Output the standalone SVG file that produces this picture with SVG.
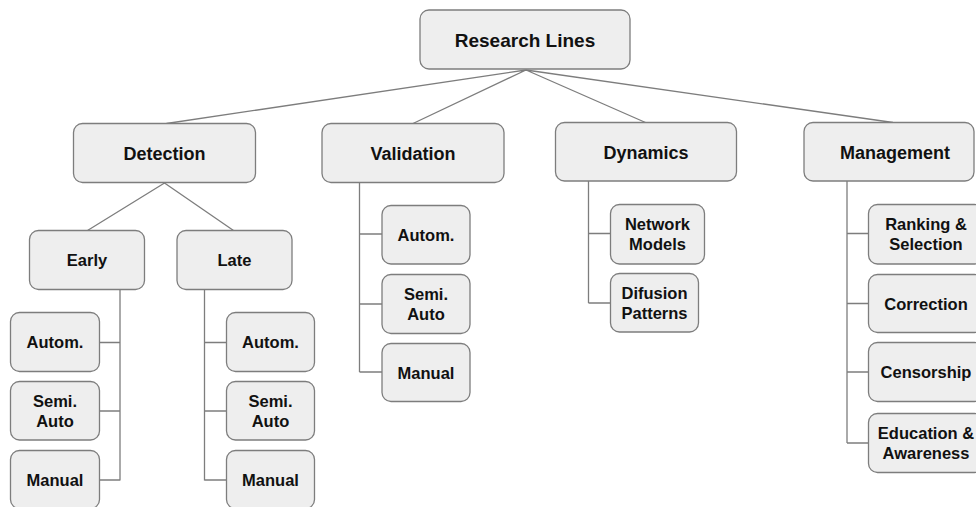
<svg xmlns="http://www.w3.org/2000/svg" width="976" height="507" viewBox="0 0 976 507">
<style>
.box{fill:#eeeeee;stroke:#7d7d7d;stroke-width:1.3}
.ln{fill:none;stroke:#7d7d7d;stroke-width:1.3}
text{font-family:"Liberation Sans",Arial,sans-serif;font-weight:bold;fill:#111;text-anchor:middle}
.t0{font-size:19px}
.t1{font-size:18px}
.t2{font-size:16.5px}
</style>
<rect width="976" height="507" fill="#ffffff"/>
<g id="connectors" class="ln">
<path d="M526 70 L166.5 123.5 M526 70 L413 123.5 M526 70 L645.5 122.5 M526 70 L893 122.5"/>
<path d="M164.5 183 L87.5 230.5 M164.5 183 L233.5 230.5"/>
<path d="M120 289.5 V480.5 M99.5 342.5 H120 M99.5 411 H120 M99.5 480 H120"/>
<path d="M204.5 289.5 V480.5 M204.5 342.5 H226.5 M204.5 411 H226.5 M204.5 480 H226.5"/>
<path d="M359.5 183 V372 M359.5 234 H382 M359.5 304 H382 M359.5 372 H382"/>
<path d="M588.5 181 V303 M588.5 233.5 H610.5 M588.5 303 H610.5"/>
<path d="M847 181 V443 M847 233.5 H868.5 M847 303.5 H868.5 M847 372 H868.5 M847 443 H868.5"/>
</g>
<g id="root"><rect class="box" x="420" y="10" width="210" height="59" rx="9"/><text class="t0" x="525" y="46.5">Research Lines</text></g>
<g id="detection"><rect class="box" x="73.5" y="123.5" width="182" height="59" rx="9"/><text class="t1" x="164.5" y="160">Detection</text></g>
<g id="validation"><rect class="box" x="322" y="123.5" width="182" height="59" rx="9"/><text class="t1" x="413" y="160">Validation</text></g>
<g id="dynamics"><rect class="box" x="555.5" y="122.5" width="181" height="58.5" rx="9"/><text class="t1" x="646" y="159">Dynamics</text></g>
<g id="management"><rect class="box" x="804" y="122.5" width="170" height="58.5" rx="9"/><text class="t1" x="895" y="159">Management</text></g>
<g id="early"><rect class="box" x="29.5" y="230.5" width="115" height="59" rx="9"/><text class="t2" x="87" y="266">Early</text></g>
<g id="late"><rect class="box" x="177" y="230.5" width="115" height="59" rx="9"/><text class="t2" x="234.5" y="266">Late</text></g>
<g id="early-autom"><rect class="box" x="10.5" y="312.5" width="89" height="59" rx="9"/><text class="t2" x="55" y="348">Autom.</text></g>
<g id="early-semi"><rect class="box" x="10.5" y="381.5" width="89" height="58.5" rx="9"/><text class="t2" x="55" y="407">Semi.</text><text class="t2" x="55" y="427">Auto</text></g>
<g id="early-manual"><rect class="box" x="10.5" y="450.5" width="89" height="58" rx="9"/><text class="t2" x="55" y="486">Manual</text></g>
<g id="late-autom"><rect class="box" x="226.5" y="312.5" width="88" height="59" rx="9"/><text class="t2" x="270.5" y="348">Autom.</text></g>
<g id="late-semi"><rect class="box" x="226.5" y="381.5" width="88" height="58.5" rx="9"/><text class="t2" x="270.5" y="407">Semi.</text><text class="t2" x="270.5" y="427">Auto</text></g>
<g id="late-manual"><rect class="box" x="226.5" y="450.5" width="88" height="58" rx="9"/><text class="t2" x="270.5" y="486">Manual</text></g>
<g id="val-autom"><rect class="box" x="382" y="205.5" width="88" height="58.5" rx="9"/><text class="t2" x="426" y="240.5">Autom.</text></g>
<g id="val-semi"><rect class="box" x="382" y="274.5" width="88" height="59" rx="9"/><text class="t2" x="426" y="300">Semi.</text><text class="t2" x="426" y="320">Auto</text></g>
<g id="val-manual"><rect class="box" x="382" y="343.5" width="88" height="58" rx="9"/><text class="t2" x="426" y="378.5">Manual</text></g>
<g id="network-models"><rect class="box" x="610.5" y="204.5" width="94" height="59.5" rx="9"/><text class="t2" x="657.5" y="230">Network</text><text class="t2" x="657.5" y="250">Models</text></g>
<g id="difusion-patterns"><rect class="box" x="610.5" y="273.5" width="88" height="58.5" rx="9"/><text class="t2" x="654.5" y="299">Difusion</text><text class="t2" x="654.5" y="319">Patterns</text></g>
<g id="ranking"><rect class="box" x="868.5" y="204.5" width="115" height="59.5" rx="9"/><text class="t2" x="926" y="230">Ranking &amp;</text><text class="t2" x="926" y="250">Selection</text></g>
<g id="correction"><rect class="box" x="868.5" y="274.5" width="115" height="58" rx="9"/><text class="t2" x="926" y="309.5">Correction</text></g>
<g id="censorship"><rect class="box" x="868.5" y="342.5" width="115" height="59" rx="9"/><text class="t2" x="926" y="378">Censorship</text></g>
<g id="education"><rect class="box" x="868.5" y="413.5" width="115" height="59" rx="9"/><text class="t2" x="926" y="439">Education &amp;</text><text class="t2" x="926" y="459">Awareness</text></g>
</svg>
